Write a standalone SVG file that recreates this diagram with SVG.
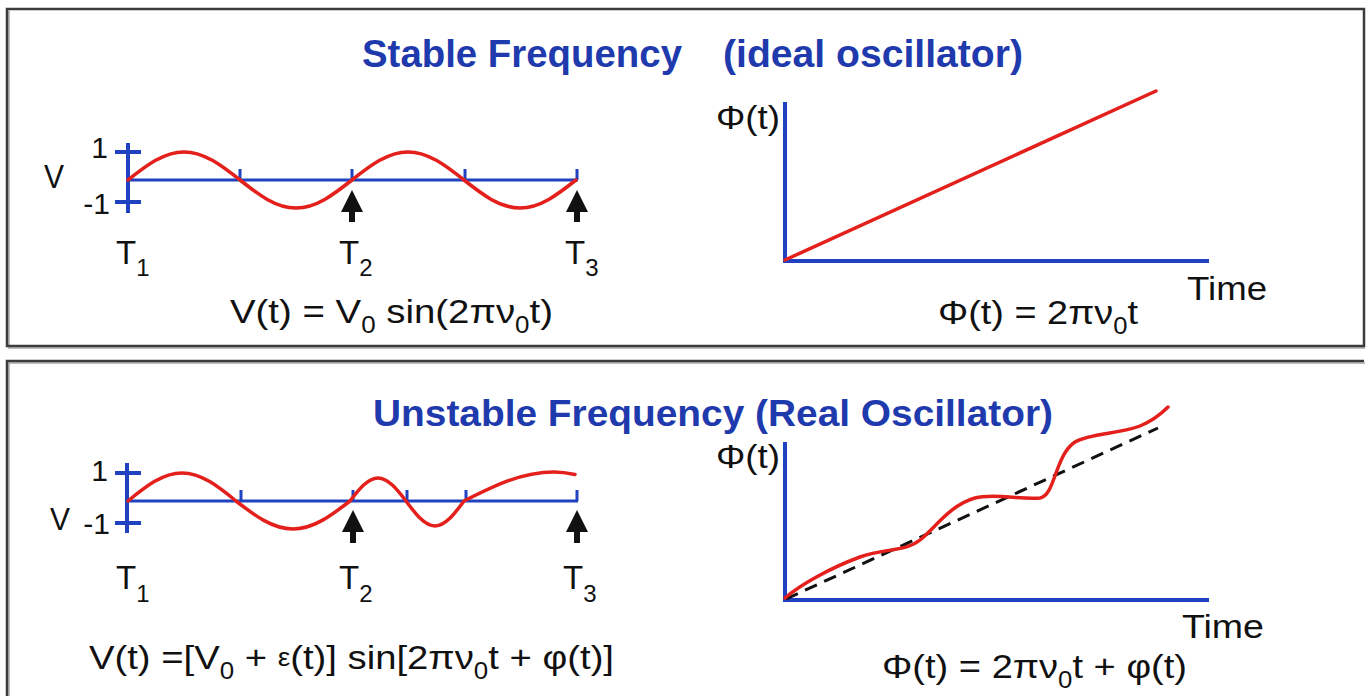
<svg xmlns="http://www.w3.org/2000/svg" width="1371" height="696" viewBox="0 0 1371 696">
<style>
.frame{fill:none;stroke:#3c3c3c;stroke-width:2.5}
.shadow{fill:none;stroke:#bdbdbd;stroke-width:2}
.ax{stroke:#2142c0;stroke-width:4;fill:none}
.hx{stroke:#2142c0;stroke-width:3;fill:none}
.tk{stroke:#2142c0;stroke-width:3}
.sig{stroke:#e3201b;stroke-width:3.5;fill:none;stroke-linecap:round;stroke-linejoin:round}
.dash{stroke:#111;stroke-width:3;fill:none;stroke-dasharray:13 8}
.lbl{font-family:"Liberation Sans",Arial,sans-serif;fill:#111}
.ttl{font-family:"Liberation Sans",Arial,sans-serif;font-weight:bold;fill:#1f3aad}
.arr{fill:#111}
</style>
<rect width="1371" height="696" fill="#ffffff"/>

<g id="panel-top">
  <path class="shadow" d="M9,11 V348 H1365"/>
  <path class="frame" d="M1364,9 H7 V346 H1364 Z"/>
  <text class="ttl" x="362" y="67" font-size="38" textLength="320" lengthAdjust="spacingAndGlyphs">Stable Frequency</text>
  <text class="ttl" x="723" y="67" font-size="38" textLength="300" lengthAdjust="spacingAndGlyphs">(ideal oscillator)</text>
</g>

<g id="panel-bottom">
  <path class="shadow" d="M9,698 V363 H1365"/>
  <path class="frame" d="M7,700 V361 H1364"/>
  <text class="ttl" x="373" y="426" font-size="36" textLength="680" lengthAdjust="spacingAndGlyphs">Unstable Frequency (Real Oscillator)</text>
</g>

<g id="stable-waveform">
  <line class="ax" x1="128" y1="143" x2="128" y2="213"/>
  <line class="ax" x1="115" y1="152" x2="141" y2="152"/>
  <line class="ax" x1="115" y1="202" x2="141" y2="202"/>
  <line class="hx" x1="128" y1="180" x2="578" y2="180"/>
  <path class="tk" d="M240,169 V180 M352,169 V180 M465,169 V180 M577,169 V180"/>
  <path class="sig" d="M128,180 C146.3,165.6 163.7,152 184,152 C204.3,152 221.7,165.6 240,180 C258.3,194.4 275.7,208 296,208 C316.3,208 333.7,194.4 352,180 C370.3,165.6 387.7,152 408,152 C428.3,152 445.7,165.6 464,180 C482.3,194.4 499.7,208 520,208 C540.3,208 557.7,194.4 576,180"/>
  <text class="lbl" x="44" y="188" font-size="34" textLength="20" lengthAdjust="spacingAndGlyphs">V</text>
  <text class="lbl" x="108" y="158" font-size="30" text-anchor="end">1</text>
  <text class="lbl" x="110" y="214" font-size="30" text-anchor="end">-1</text>
  <text class="lbl" x="116" y="264" font-size="33">T<tspan font-size="24" dy="12">1</tspan></text>
  <text class="lbl" x="339" y="264" font-size="33">T<tspan font-size="24" dy="12">2</tspan></text>
  <text class="lbl" x="565" y="264" font-size="33">T<tspan font-size="24" dy="12">3</tspan></text>
  <text class="lbl" x="230" y="323" font-size="34" textLength="323" lengthAdjust="spacingAndGlyphs">V(t) = V<tspan font-size="23" dy="10">0</tspan><tspan dy="-10"> sin(2πν</tspan><tspan font-size="23" dy="10">0</tspan><tspan dy="-10">t)</tspan></text>
</g>

<g id="stable-phase">
  <line class="ax" x1="785" y1="102" x2="785" y2="261"/>
  <line class="ax" x1="783" y1="261" x2="1209" y2="261"/>
  <line class="sig" x1="785" y1="260" x2="1156" y2="91"/>
  <text class="lbl" x="716" y="129" font-size="34" textLength="64" lengthAdjust="spacingAndGlyphs">Φ(t)</text>
  <text class="lbl" x="1187" y="300" font-size="34" textLength="80" lengthAdjust="spacingAndGlyphs">Time</text>
  <text class="lbl" x="938" y="324" font-size="34" textLength="200" lengthAdjust="spacingAndGlyphs">Φ(t) = 2πν<tspan font-size="23" dy="10">0</tspan><tspan dy="-10">t</tspan></text>
</g>

<g id="unstable-waveform">
  <line class="ax" x1="127" y1="463" x2="127" y2="533"/>
  <line class="ax" x1="115" y1="473" x2="141" y2="473"/>
  <line class="ax" x1="115" y1="523" x2="141" y2="523"/>
  <line class="hx" x1="127" y1="501" x2="578" y2="501"/>
  <path class="tk" d="M241,490 V501 M353,490 V501 M407,490 V501 M466,490 V501 M577,490 V501"/>
  <path class="sig" d="M128,501 C145.6,486.6 162.5,473 182,473 C201.5,473 218.4,486.6 236,501 C254.6,515.4 272.4,529 293,529 C313.6,529 331.4,515.4 350,501 C359.1,489.2 367.9,478 378,478 C388.1,478 396.9,489.2 406,501 C415.5,513.8 424.5,526 435,526 C445.5,526 454.5,513.8 464,501 C493.4,486.1 521.4,472 554,472 C561,472 568,473 575,474.5"/>
  <text class="lbl" x="108" y="481" font-size="30" text-anchor="end">1</text>
  <text class="lbl" x="50" y="530" font-size="32" textLength="20" lengthAdjust="spacingAndGlyphs">V</text>
  <text class="lbl" x="110" y="534" font-size="30" text-anchor="end">-1</text>
  <text class="lbl" x="116" y="589" font-size="33">T<tspan font-size="24" dy="13">1</tspan></text>
  <text class="lbl" x="339" y="589" font-size="33">T<tspan font-size="24" dy="13">2</tspan></text>
  <text class="lbl" x="563" y="589" font-size="33">T<tspan font-size="24" dy="13">3</tspan></text>
  <text class="lbl" x="89" y="669" font-size="34" textLength="525" lengthAdjust="spacingAndGlyphs">V(t) =[V<tspan font-size="23" dy="10">0</tspan><tspan dy="-10"> + </tspan><tspan font-size="25" dy="-3">ε</tspan><tspan dy="3">(t)] sin[2πν</tspan><tspan font-size="23" dy="10">0</tspan><tspan dy="-10">t + φ(t)]</tspan></text>
</g>

<g id="unstable-phase">
  <line class="ax" x1="785" y1="442" x2="785" y2="600"/>
  <line class="ax" x1="783" y1="600" x2="1209" y2="600"/>
  <line class="dash" x1="786" y1="599" x2="1158" y2="428"/>
  <path class="sig" d="M785,598 C800,585 830,568 860,557 C885,548 905,552 920,540 C935,528 950,505 975,498 C995,493 1020,500 1040,498 C1055,496 1055,455 1075,442 C1090,433 1120,434 1140,426 C1152,421 1160,415 1168,407"/>
  <text class="lbl" x="716" y="468" font-size="34" textLength="64" lengthAdjust="spacingAndGlyphs">Φ(t)</text>
  <text class="lbl" x="1182" y="638" font-size="34" textLength="82" lengthAdjust="spacingAndGlyphs">Time</text>
  <text class="lbl" x="882" y="678" font-size="34" textLength="305" lengthAdjust="spacingAndGlyphs">Φ(t) = 2πν<tspan font-size="23" dy="10">0</tspan><tspan dy="-10">t + φ(t)</tspan></text>
</g>

<g id="connectors">
  <polygon class="arr" points="352,190 363,212 355,212 355,222 349,222 349,212 341,212"/>
  <polygon class="arr" points="577,190 588,212 580,212 580,222 574,222 574,212 566,212"/>
  <polygon class="arr" points="353,510 364,532 356,532 356,543 350,543 350,532 342,532"/>
  <polygon class="arr" points="577,510 588,532 580,532 580,543 574,543 574,532 566,532"/>
</g>
</svg>
